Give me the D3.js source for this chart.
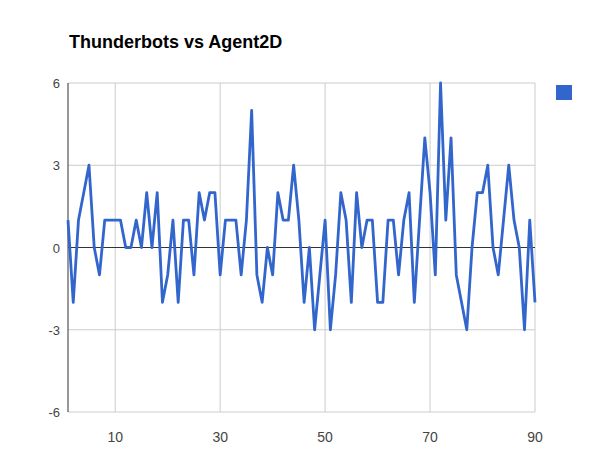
<!DOCTYPE html>
<html><head><meta charset="utf-8">
<script src="https://cdn.jsdelivr.net/npm/d3@7"></script>
<style>body{margin:0;background:#fff}svg{font-family:Arial,"Liberation Sans",sans-serif}</style>
</head><body><svg width="607" height="472"></svg>
<script>
const values=[1,-2,1,2,3,0,-1,1,1,1,1,0,0,1,0,2,0,2,-2,-1,1,-2,1,1,-1,2,1,2,2,-1,
1,1,1,-1,1,5,-1,-2,0,-1,2,1,1,3,1,-2,0,-3,-1,1,-3,-1,2,1,-2,2,0,1,1,-2,
-2,1,1,-1,1,2,-2,1,4,2,-1,6,1,4,-1,-2,-3,0,2,2,3,0,-1,1,3,1,0,-3,1,-2];
const xTicks=[10,30,50,70,90];
const yTicks=[-6,-3,0,3,6];
const title="Thunderbots vs Agent2D";
const svg=d3.select("svg");
const L=68,R=535,T=83,B=412;
const x=d3.scaleLinear().domain([1,90]).range([L,R]);
const y=d3.scaleLinear().domain([-6,6]).range([B,T]);
svg.append("text").attr("x",69).attr("y",48).attr("font-size",18).attr("font-weight","bold").text(title);
const g=svg.append("g");
yTicks.forEach(t=>{g.append("line").attr("x1",L).attr("x2",R).attr("y1",y(t)).attr("y2",y(t)).attr("stroke",t===0?"#333":"#ccc");
 g.append("text").attr("x",L-8).attr("y",y(t)+5).attr("text-anchor","end").attr("font-size",13).attr("fill","#444").text(t);});
xTicks.forEach(t=>{g.append("line").attr("x1",x(t)).attr("x2",x(t)).attr("y1",T).attr("y2",B).attr("stroke","#ccc");
 g.append("text").attr("x",x(t)).attr("y",442).attr("text-anchor","middle").attr("font-size",14).attr("fill","#444").text(t);});
g.append("line").attr("x1",L).attr("x2",L).attr("y1",T).attr("y2",B).attr("stroke","#333");
g.append("line").attr("x1",L).attr("x2",R).attr("y1",y(0)).attr("y2",y(0)).attr("stroke","#333");
svg.append("path").datum(values).attr("fill","none").attr("stroke","#3366cc").attr("stroke-width",2.8)
 .attr("stroke-linejoin","round").attr("d",d3.line().x((d,i)=>x(i+1)).y(d=>y(d)));
svg.append("rect").attr("x",556).attr("y",85).attr("width",16).attr("height",15).attr("fill","#3366cc");
</script></body></html>
